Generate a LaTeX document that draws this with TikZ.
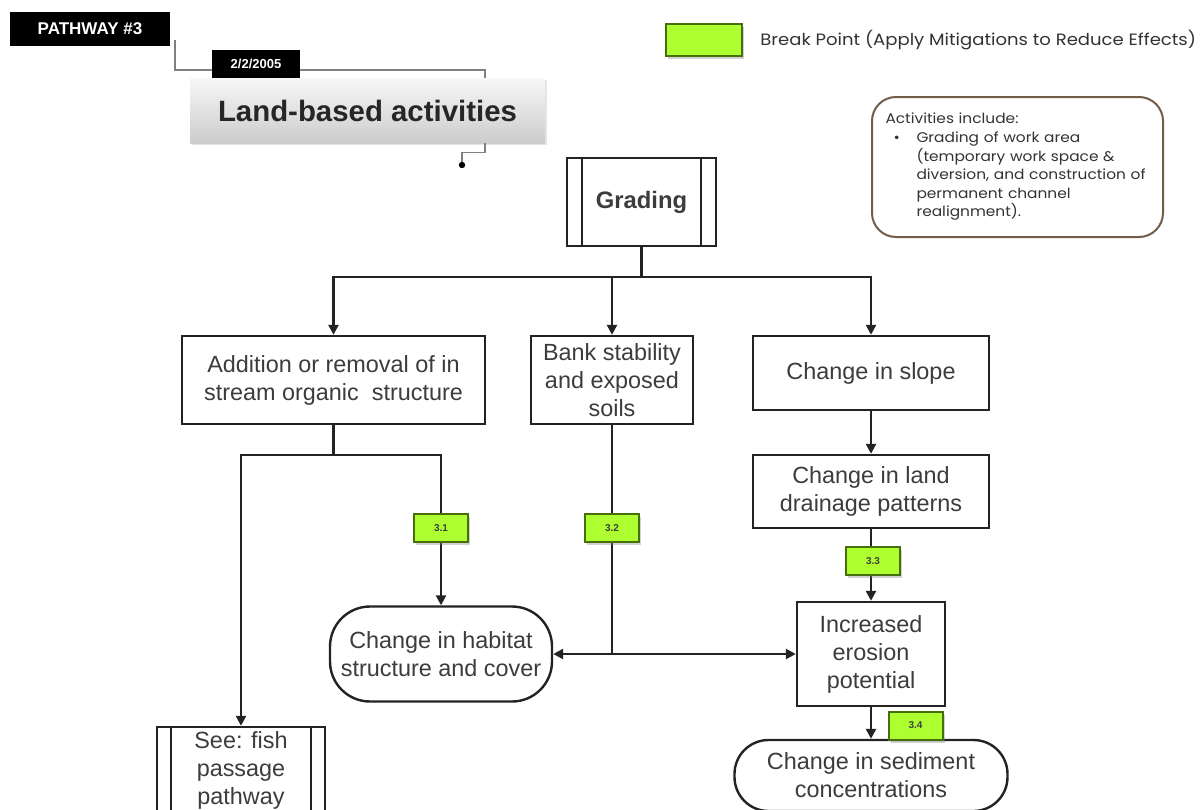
\documentclass[tikz,border=0pt]{standalone}
\usepackage{fontspec}
\setmainfont{Liberation Sans}
\newfontfamily\geo[FakeStretch=1.1]{Poppins}
\usetikzlibrary{arrows.meta,shadows,calc}
\definecolor{bpfill}{RGB}{173,255,47}
\definecolor{bpdraw}{RGB}{70,110,10}
\definecolor{ink}{RGB}{35,35,35}
\definecolor{txt}{RGB}{60,60,60}
\tikzset{
  box/.style={draw=ink, line width=1.2pt, fill=white, align=center, text=txt,
    font=\fontsize{11.7}{14}\selectfont, inner sep=1pt},
  bpbox/.style={draw=bpdraw, line width=1pt, fill=bpfill,
    drop shadow={shadow xshift=1pt, shadow yshift=-1.5pt, opacity=0.35},
    minimum width=27pt, minimum height=14pt, inner sep=0pt,
    font=\fontsize{5}{6}\selectfont\bfseries, text=black!75},
  conn/.style={draw=ink, line width=1.2pt},
  arr/.style={conn, -{Triangle[length=5pt,width=5pt]}},
  blk/.style={fill=black, text=white, inner sep=0pt, font=\bfseries},
  hdr/.style={draw=gray, line width=0.8pt},
}
\begin{document}
\begin{tikzpicture}[x=0.5pt,y=-0.5pt]
\useasboundingbox (0,0) rectangle (1200,809);
\clip (0,0) rectangle (1200,809);
\fill[white] (0,0) rectangle (1200,809);

% header
\node[blk, minimum width=80pt, minimum height=17pt, font=\fontsize{8.5}{10}\selectfont\bfseries] (pathway) at (90,29) {PATHWAY \#3};
\node[top color=gray!6, bottom color=gray!40, inner sep=0pt, minimum width=177.5pt, minimum height=32.5pt,
  drop shadow={shadow xshift=1pt, shadow yshift=-1pt, opacity=0.2},
  font=\fontsize{14.7}{17}\selectfont\bfseries, text=black!85] (title) at (367.5,110.5) {Land-based activities};
\coordinate (h1) at (175,40);
\coordinate (h2) at (485,70);
\draw[hdr] (h1) |- (h2) -- (title.north -| h2);
\coordinate (h3) at (462,165);
\draw[hdr] (title.south -| h2) -- ++(0,9) -| (h3);
\fill[black] (h3) circle (1.6pt);
\node[blk, minimum width=44pt, minimum height=14pt, font=\fontsize{6.5}{7}\selectfont\bfseries] (date) at (256,64) {2/2/2005};

% legend
\node[bpbox, minimum width=38pt, minimum height=16pt] (legbox) at (704,40) {};
\node[anchor=west, inner sep=0pt, font=\geo\fontsize{8.2}{9}\selectfont, text=black!80] (legtxt) at (760,40) {Break Point (Apply Mitigations to Reduce Effects)};

% activities note
\node[draw=black!45!brown!60!gray, line width=1pt, rounded corners=12pt, minimum width=145.5pt, minimum height=70pt,
  text width=132pt, inner xsep=6.5pt, align=left, font=\geo\fontsize{7}{9.3}\selectfont, text=black!80] (act) at (1017.5,167)
  {Activities include:\\
   \hspace*{4pt}\rlap{\textbullet}\hspace*{11.5pt}Grading of work area\\
   \hspace*{15.5pt}(temporary work space \&\\
   \hspace*{15.5pt}diversion, and construction of\\
   \hspace*{15.5pt}permanent channel\\
   \hspace*{15.5pt}realignment).};

% main nodes
\node[box, minimum width=74.5pt, minimum height=44pt, font=\fontsize{11.9}{14}\selectfont\bfseries] (grading) at (641.5,202) {Grading};
\draw[ink, line width=1.2pt] ([xshift=8pt]grading.north west) -- ([xshift=8pt]grading.south west)
  ([xshift=-8pt]grading.north east) -- ([xshift=-8pt]grading.south east);
\node[box, minimum width=151.5pt, minimum height=44pt] (add) at (333.5,380) {Addition or removal of in\\stream organic\ \ structure};
\node[box, minimum width=81pt, minimum height=44pt] (bank) at (612,380) {Bank stability\\and exposed\\soils};
\node[box, minimum width=118pt, minimum height=37pt] (slope) at (871,373) {Change in slope};
\node[box, minimum width=118pt, minimum height=36.5pt] (drain) at (871,491.5) {Change in land\\drainage patterns};
\node[box, rounded corners=20pt, minimum width=111pt, minimum height=47.5pt] (habitat) at (441,654) {Change in habitat\\structure and cover};
\node[box, minimum width=74pt, minimum height=52pt] (erosion) at (871,654) {Increased\\erosion\\potential};
\node[box, rounded corners=17pt, minimum width=136.5pt, minimum height=35.5pt] (sediment) at (871,775.5) {Change in sediment\\concentrations};
\node[box, minimum width=84pt, minimum height=43pt] (fish) at (241,770) {See: fish\\passage\\pathway};
\draw[ink, line width=1.2pt] ([xshift=7.5pt]fish.north west) -- ([xshift=7.5pt]fish.south west)
  ([xshift=-7.5pt]fish.north east) -- ([xshift=-7.5pt]fish.south east);

% connectors
\coordinate (bus) at (641.5,277);
\draw[conn] (grading.south) -- (bus);
\draw[arr] (bus) -| (add.north);
\draw[arr] (bus) -| (slope.north);
\draw[arr] (bank.north |- bus) -- (bank.north);
\coordinate (split) at (333.5,455);
\draw[conn] (add.south) -- (split);
\draw[arr] (split) -| (fish.north);
\draw[arr] (split) -| (habitat.north);
\coordinate (j2) at (bank.south |- habitat.east);
\draw[conn] (bank.south) -- (j2);
\draw[arr] (j2) -- (habitat.east);
\draw[arr] (j2) -- (erosion.west);
\draw[arr] (slope.south) -- (drain.north);
\draw[arr] (drain.south) -- (erosion.north);
\draw[arr] (erosion.south) -- (sediment.north);

% break points
\node[bpbox] (bp1) at (441,528) {3.1};
\node[bpbox] (bp2) at (612,528) {3.2};
\node[bpbox] (bp3) at (873,561) {3.3};
\node[bpbox] (bp4) at (915.5,725.5) {3.4};
\end{tikzpicture}
\end{document}
